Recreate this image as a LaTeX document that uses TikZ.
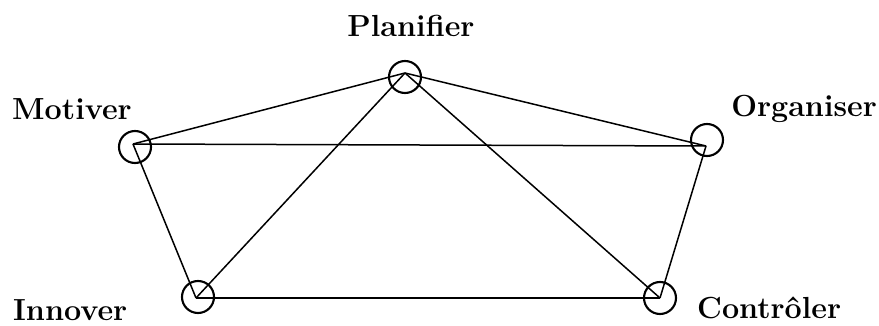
\documentclass[tikz,border=0pt]{standalone}
\usepackage{fontspec}
\begin{document}
\begin{tikzpicture}[x=1pt,y=-1pt,
  ring/.style={circle,draw,line width=2.1pt,minimum size=32pt,inner sep=0pt},
  edge/.style={line width=1.5pt},
  lbl/.style={font=\fontsize{30.5}{33}\selectfont\bfseries,inner sep=0pt}]
\useasboundingbox (0,0) rectangle (879,326);
% circles
\node[ring] (cM) at (135,147) {};
\node[ring] (cP) at (405,77) {};
\node[ring] (cO) at (707,140) {};
\node[ring] (cI) at (198,297) {};
\node[ring] (cC) at (660,298) {};
% vertices
\coordinate (M) at (133,144);
\coordinate (P) at (405,73);
\coordinate (O) at (706,146);
\coordinate (I) at (196,298);
\coordinate (C) at (660,298);
% edges
\draw[edge] (M) -- (P);
\draw[edge] (P) -- (O);
\draw[edge] (M) -- (O);
\draw[edge] (M) -- (I);
\draw[edge] (O) -- (C);
\draw[edge] (I) -- (C);
\draw[edge] (I) -- (P);
\draw[edge] (P) -- (C);
% labels
\node[lbl,anchor=base] (tP) at (411,37) {Planifier};
\node[lbl,anchor=base west] (tM) at (12,120) {Motiver};
\node[lbl,anchor=base east] (tO) at (877,117) {Organiser};
\node[lbl,anchor=base west] (tI) at (13,320) {Innover};
\node[lbl,anchor=base west] (tC) at (697,318) {Contrôler};
\end{tikzpicture}
\end{document}
